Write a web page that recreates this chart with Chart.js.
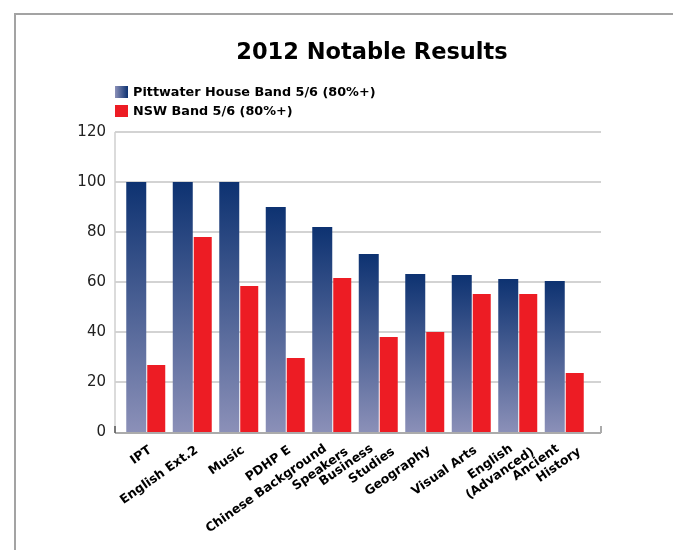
<!DOCTYPE html>
<html><head><meta charset="utf-8">
<script src="https://cdn.jsdelivr.net/npm/chart.js@4/dist/chart.umd.min.js"></script>
<style>html,body{margin:0;padding:0;background:#fff;overflow:hidden}
#wrap{position:relative;width:673px;height:550px}</style></head>
<body><div id="wrap"><canvas id="c" width="673" height="550"></canvas></div>
<script>
const TITLE = '2012 Notable Results';
const categories = ['IPT', 'English Ext.2', 'Music', 'PDHP E', ['Chinese Background', 'Speakers'],
  ['Business', 'Studies'], 'Geography', 'Visual Arts', ['English', '(Advanced)'], ['Ancient', 'History']];
const seriesNames = ['Pittwater House Band 5/6 (80%+)', 'NSW Band 5/6 (80%+)'];
const pittwaterValues = [100, 100, 100, 90, 82, 71.2, 63.2, 62.8, 61.2, 60.4];
const nswValues = [26.8, 78, 58.4, 29.6, 61.6, 38, 40, 55.2, 55.2, 23.6];
const yTicks = [0, 20, 40, 60, 80, 100, 120];

const DARK = '#0d3271', LIGHT = '#8b90b8', RED = '#ed1c24';
const FONT = '"DejaVu Sans", Verdana, sans-serif';

function phGradient(context) {
  const chart = context.chart;
  const { ctx, chartArea, scales } = chart;
  if (!chartArea || context.type !== 'data' || !scales.y) return '#4c6194';
  const top = scales.y.getPixelForValue(context.raw);
  const bottom = scales.y.getPixelForValue(0);
  if (!isFinite(top) || !isFinite(bottom) || top === bottom) return DARK;
  const g = ctx.createLinearGradient(0, top, 0, bottom);
  g.addColorStop(0, DARK);
  g.addColorStop(1, LIGHT);
  return g;
}

const decor = {
  id: 'decor',
  beforeDraw(chart) {
    const c = chart.ctx;
    c.save();
    c.fillStyle = '#fff';
    c.fillRect(0, 0, chart.width, chart.height);
    // frame
    c.fillStyle = '#a3a3a3';
    c.fillRect(14, 13, chart.width - 14, 2);
    c.fillRect(14, 13, 2, chart.height - 13);
    // title
    c.fillStyle = '#000';
    c.font = 'bold 22.5px ' + FONT;
    c.textAlign = 'center';
    c.textBaseline = 'alphabetic';
    c.fillText(TITLE, 372, 59);
    // legend
    const lx = chart.chartArea.left - 8;
    const rows = [86, 105];
    chart.data.datasets.forEach((ds, i) => {
      const y = rows[i];
      if (i === 0) {
        const g = c.createLinearGradient(lx, 0, lx + 13, 0);
        g.addColorStop(0, LIGHT); g.addColorStop(1, DARK);
        c.fillStyle = g;
      } else {
        c.fillStyle = RED;
      }
      c.fillRect(lx, y, 13, 12);
      c.fillStyle = '#000';
      c.font = 'bold 12.8px ' + FONT;
      c.textAlign = 'left';
      c.fillText(ds.label, lx + 18, y + 10);
    });
    c.restore();
  },
  beforeDatasetsDraw(chart) {
    const c = chart.ctx, a = chart.chartArea, ys = chart.scales.y;
    const L = a.left - 8, R = a.right + 13;
    c.save();
    c.strokeStyle = '#d3d3d3';
    c.lineWidth = 2;
    yTicks.forEach(v => {
      if (v === 0) return;
      const y = Math.round(ys.getPixelForValue(v));
      c.beginPath(); c.moveTo(L, y); c.lineTo(R, y); c.stroke();
    });
    c.strokeStyle = '#cfcfcf';
    c.lineWidth = 1.5;
    c.beginPath(); c.moveTo(L, ys.getPixelForValue(120)); c.lineTo(L, ys.getPixelForValue(0)); c.stroke();
    c.restore();
  },
  afterDatasetsDraw(chart) {
    const c = chart.ctx, a = chart.chartArea, ys = chart.scales.y, xs = chart.scales.x;
    const L = a.left - 8, R = a.right + 13;
    const y0 = Math.round(ys.getPixelForValue(0)) + 1;
    c.save();
    c.strokeStyle = '#ababab';
    c.lineWidth = 2;
    c.beginPath(); c.moveTo(L, y0); c.lineTo(R, y0); c.stroke();
    c.beginPath(); c.moveTo(R, y0); c.lineTo(R, y0 - 7); c.stroke();
    c.strokeStyle = '#555';
    c.lineWidth = 1.5;
    c.beginPath(); c.moveTo(L, y0); c.lineTo(L, y0 - 7); c.stroke();
    // category labels, rotated, multi-line blocks centred on the tick
    c.fillStyle = '#000';
    c.font = 'bold 12.5px ' + FONT;
    c.textAlign = 'right';
    c.textBaseline = 'middle';
    const ang = -35 * Math.PI / 180;
    chart.data.labels.forEach((lab, i) => {
      const lines = Array.isArray(lab) ? lab : [lab];
      const t = xs.getPixelForValue(i);
      c.save();
      c.translate(t + 4, y0 + 16);
      c.rotate(ang);
      lines.forEach((ln, j) => {
        const k = j - (lines.length - 1) / 2;
        c.fillText(ln, k * 16, k * 15);
      });
      c.restore();
    });
    c.restore();
  }
};

new Chart(document.getElementById('c'), {
  type: 'bar',
  data: {
    labels: categories,
    datasets: [
      { label: seriesNames[0], data: pittwaterValues, backgroundColor: phGradient, borderWidth: 0, barPercentage: 1.0, categoryPercentage: 0.86 },
      { label: seriesNames[1], data: nswValues, backgroundColor: RED, borderWidth: 0, barPercentage: 0.9, categoryPercentage: 0.86 }
    ]
  },
  options: {
    responsive: false,
    animation: false,
    devicePixelRatio: 1,
    layout: { padding: { left: 15, right: 85, top: 132, bottom: 0 } },
    plugins: { legend: { display: false }, title: { display: false }, tooltip: { enabled: false } },
    scales: {
      x: {
        grid: { display: false, drawTicks: false },
        border: { display: false },
        ticks: { display: false, autoSkip: false },
        afterFit(s) { s.height = 118; }
      },
      y: {
        min: 0, max: 120,
        grid: { display: false, drawTicks: false },
        border: { display: false },
        ticks: { stepSize: 20, padding: 17, color: '#222', font: { family: FONT, size: 15 } },
        afterFit(s) { s.width = 108; }
      }
    }
  },
  plugins: [decor]
});
</script></body></html>
